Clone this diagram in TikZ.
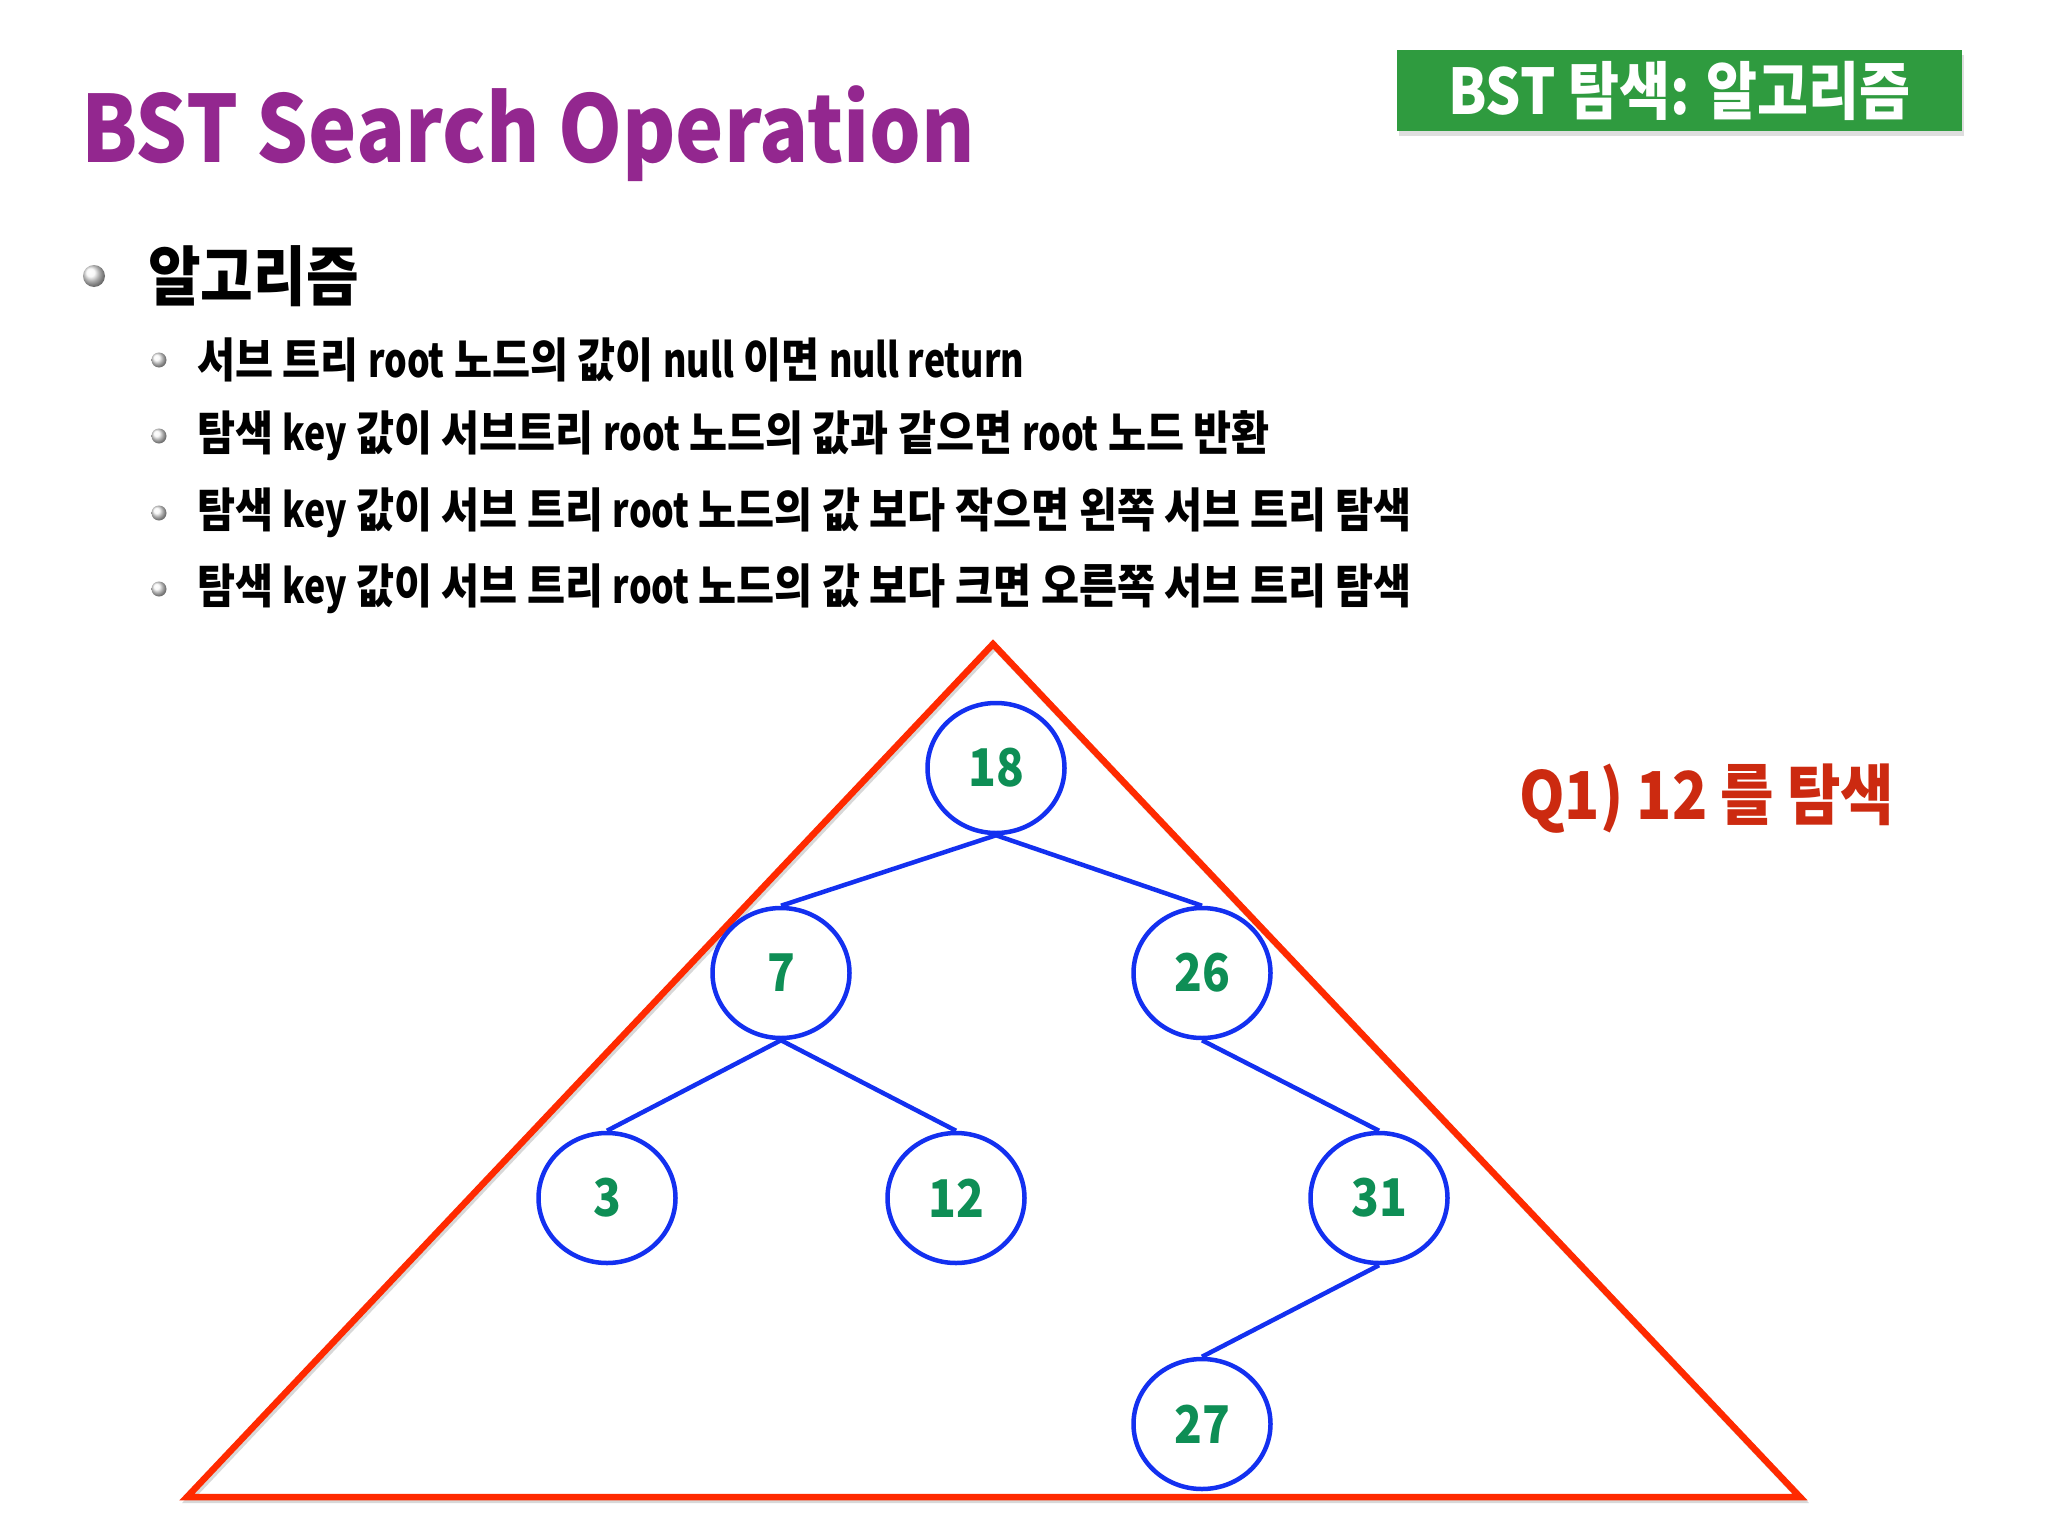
\documentclass[tikz,border=0pt]{standalone}
\usepackage{fontspec}
\setmainfont{Noto Sans CJK KR}[FakeStretch=0.88]
\newfontfamily\latn{Noto Sans CJK KR}[FakeStretch=0.76]
\newcommand{\lt}[1]{{\latn\bfseries #1}}
\usetikzlibrary{shapes.geometric}
\definecolor{titlepurple}{HTML}{93278F}
\definecolor{boxgreen}{HTML}{2F9B3F}
\definecolor{numgreen}{HTML}{0E8E55}
\definecolor{treeblue}{HTML}{1330F0}
\definecolor{trired}{HTML}{FF2A00}
\definecolor{qred}{HTML}{CC2A10}
\tikzset{
  bst/.style={ellipse, draw=treeblue, line width=4.5bp, minimum width=137bp, minimum height=130bp, inner sep=0pt,
    text=numgreen, font=\fontsize{52bp}{60bp}\selectfont\bfseries},
  edge/.style={draw=treeblue, line width=4.5bp},
  bigdot/.style={circle, minimum size=22bp, inner sep=0pt, ball color=gray!7, shading=ball},
  smalldot/.style={circle, minimum size=15bp, inner sep=0pt, ball color=gray!7, shading=ball},
  bullettext/.style={anchor=west, inner sep=0pt, font=\fontsize{47bp}{56bp}\selectfont\bfseries},
}
\begin{document}
\begin{tikzpicture}[x=1bp, y=-1bp]
\useasboundingbox (0,0) rectangle (2048,1536);
\fill[white] (0,0) rectangle (2048,1536);
% title
\node[anchor=base west, inner sep=0pt, text=titlepurple, font=\fontsize{92.5bp}{110bp}\selectfont\bfseries] (title) at (81,163) {BST Search Operation};
% green box
\fill[black!25, opacity=0.5] (1399,55) rectangle (1964,136);
\node[fill=boxgreen, minimum width=565bp, minimum height=81bp, inner sep=0pt, anchor=north west, text=white,
  font=\fontsize{63bp}{70bp}\selectfont\bfseries] (tag) at (1397,50) {BST 탐색: 알고리즘};
% bullets
\node[bigdot] (b0) at (94,276) {};
\node[anchor=west, inner sep=0pt, font=\fontsize{65bp}{74bp}\selectfont\bfseries] (h0) at (148,276) {알고리즘};
\node[smalldot] (b1) at (159,360) {};
\node[bullettext] (t1) at (197,360) {서브 트리 \lt{root} 노드의 값이 \lt{null} 이면 \lt{null return}};
\node[smalldot] (b2) at (159,436) {};
\node[bullettext] (t2) at (197,436) {탐색 \lt{key} 값이 서브트리 \lt{root} 노드의 값과 같으면 \lt{root} 노드 반환};
\node[smalldot] (b3) at (159,513) {};
\node[bullettext] (t3) at (197,513) {탐색 \lt{key} 값이 서브 트리 \lt{root} 노드의 값 보다 작으면 왼쪽 서브 트리 탐색};
\node[smalldot] (b4) at (159,589) {};
\node[bullettext] (t4) at (197,589) {탐색 \lt{key} 값이 서브 트리 \lt{root} 노드의 값 보다 크면 오른쪽 서브 트리 탐색};
% triangle
\coordinate (apex) at (993,644);
\coordinate (bl) at (187,1497);
\coordinate (br) at (1800,1497);
\draw[black!30, line width=6bp, line join=miter, opacity=0.5] ([xshift=2bp,yshift=-3bp]apex) -- ([xshift=2bp,yshift=-3bp]bl) -- ([xshift=2bp,yshift=-3bp]br) -- cycle;
\draw[trired, line width=6.5bp, line join=miter] (apex) -- (bl) -- (br) -- cycle;
% tree
\node[bst] (n18) at (996,768) {18};
\node[bst] (n7) at (781,973) {7};
\node[bst] (n26) at (1202,973) {26};
\node[bst] (n3) at (607,1198) {3};
\node[bst] (n12) at (956,1198) {12};
\node[bst] (n31) at (1379,1198) {31};
\node[bst] (n27) at (1202,1424) {27};
\draw[edge] (n18.south) -- (n7.north);
\draw[edge] (n18.south) -- (n26.north);
\draw[edge] (n7.south) -- (n3.north);
\draw[edge] (n7.south) -- (n12.north);
\draw[edge] (n26.south) -- (n31.north);
\draw[edge] (n31.south) -- (n27.north);
% question
\node[anchor=west, inner sep=0pt, text=qred, font=\fontsize{66bp}{76bp}\selectfont\bfseries] (q1) at (1519,799) {Q1) 12 를 탐색};
\end{tikzpicture}
\end{document}
